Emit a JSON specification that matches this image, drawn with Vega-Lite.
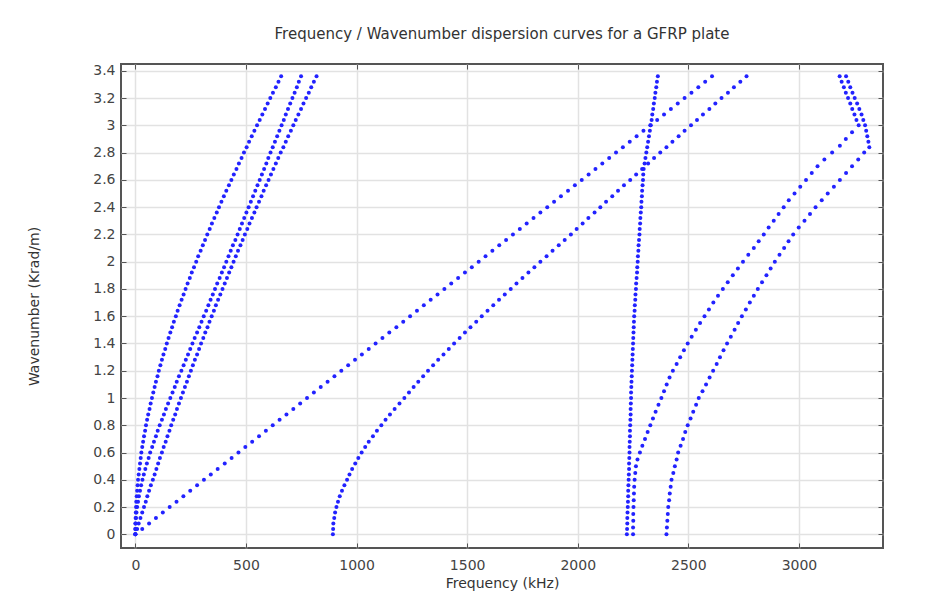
{
"$schema":"https://vega.github.io/schema/vega-lite/v6.json",
"width":762,"height":484,
"autosize":{"type":"none"},
"padding":{"left":121,"top":64,"right":54,"bottom":44},
"background":"#ffffff",
"title":{"text":"Frequency / Wavenumber dispersion curves for a GFRP plate","fontSize":15,"font":"DejaVu Sans","fontWeight":"normal","color":"#333333","anchor":"middle","offset":22},
"data":{"values":[
{"m":"A","k":0,"f":0},{"m":"A","k":0.04,"f":0},{"m":"A","k":0.08,"f":0},{"m":"A","k":0.12,"f":1},{"m":"A","k":0.16,"f":2},{"m":"A","k":0.2,"f":3},{"m":"A","k":0.24,"f":4},{"m":"A","k":0.28,"f":6},{"m":"A","k":0.32,"f":8},{"m":"A","k":0.36,"f":10},{"m":"A","k":0.4,"f":12},{"m":"A","k":0.44,"f":15},{"m":"A","k":0.48,"f":18},{"m":"A","k":0.52,"f":21},{"m":"A","k":0.56,"f":24},{"m":"A","k":0.6,"f":27},{"m":"A","k":0.64,"f":31},{"m":"A","k":0.68,"f":35},{"m":"A","k":0.72,"f":39},{"m":"A","k":0.76,"f":44},{"m":"A","k":0.8,"f":48},{"m":"A","k":0.84,"f":53},{"m":"A","k":0.88,"f":58},{"m":"A","k":0.92,"f":64},{"m":"A","k":0.96,"f":69},{"m":"A","k":1,"f":75},{"m":"A","k":1.04,"f":81},{"m":"A","k":1.08,"f":87},{"m":"A","k":1.12,"f":93},{"m":"A","k":1.16,"f":100},{"m":"A","k":1.2,"f":106},{"m":"A","k":1.24,"f":113},{"m":"A","k":1.28,"f":120},{"m":"A","k":1.32,"f":127},{"m":"A","k":1.36,"f":135},{"m":"A","k":1.4,"f":142},{"m":"A","k":1.44,"f":150},{"m":"A","k":1.48,"f":158},{"m":"A","k":1.52,"f":166},{"m":"A","k":1.56,"f":174},{"m":"A","k":1.6,"f":183},{"m":"A","k":1.64,"f":191},{"m":"A","k":1.68,"f":200},{"m":"A","k":1.72,"f":209},{"m":"A","k":1.76,"f":218},{"m":"A","k":1.8,"f":227},{"m":"A","k":1.84,"f":236},{"m":"A","k":1.88,"f":246},{"m":"A","k":1.92,"f":255},{"m":"A","k":1.96,"f":265},{"m":"A","k":2,"f":275},{"m":"A","k":2.04,"f":284},{"m":"A","k":2.08,"f":295},{"m":"A","k":2.12,"f":305},{"m":"A","k":2.16,"f":315},{"m":"A","k":2.2,"f":325},{"m":"A","k":2.24,"f":336},{"m":"A","k":2.28,"f":346},{"m":"A","k":2.32,"f":357},{"m":"A","k":2.36,"f":368},{"m":"A","k":2.4,"f":378},{"m":"A","k":2.44,"f":389},{"m":"A","k":2.48,"f":400},{"m":"A","k":2.52,"f":411},{"m":"A","k":2.56,"f":423},{"m":"A","k":2.6,"f":434},{"m":"A","k":2.64,"f":445},{"m":"A","k":2.68,"f":457},{"m":"A","k":2.72,"f":468},{"m":"A","k":2.76,"f":480},{"m":"A","k":2.8,"f":491},{"m":"A","k":2.84,"f":503},{"m":"A","k":2.88,"f":514},{"m":"A","k":2.92,"f":526},{"m":"A","k":2.96,"f":538},{"m":"A","k":3,"f":550},{"m":"A","k":3.04,"f":562},{"m":"A","k":3.08,"f":574},{"m":"A","k":3.12,"f":586},{"m":"A","k":3.16,"f":598},{"m":"A","k":3.2,"f":610},{"m":"A","k":3.24,"f":622},{"m":"A","k":3.28,"f":635},{"m":"A","k":3.32,"f":647},{"m":"A","k":3.36,"f":659},
{"m":"B","k":0,"f":0},{"m":"B","k":0.04,"f":0},{"m":"B","k":0.08,"f":1},{"m":"B","k":0.12,"f":3},{"m":"B","k":0.16,"f":5},{"m":"B","k":0.2,"f":8},{"m":"B","k":0.24,"f":12},{"m":"B","k":0.28,"f":16},{"m":"B","k":0.32,"f":21},{"m":"B","k":0.36,"f":26},{"m":"B","k":0.4,"f":32},{"m":"B","k":0.44,"f":38},{"m":"B","k":0.48,"f":45},{"m":"B","k":0.52,"f":52},{"m":"B","k":0.56,"f":60},{"m":"B","k":0.6,"f":67},{"m":"B","k":0.64,"f":76},{"m":"B","k":0.68,"f":84},{"m":"B","k":0.72,"f":93},{"m":"B","k":0.76,"f":101},{"m":"B","k":0.8,"f":110},{"m":"B","k":0.84,"f":120},{"m":"B","k":0.88,"f":129},{"m":"B","k":0.92,"f":138},{"m":"B","k":0.96,"f":148},{"m":"B","k":1,"f":158},{"m":"B","k":1.04,"f":168},{"m":"B","k":1.08,"f":178},{"m":"B","k":1.12,"f":187},{"m":"B","k":1.16,"f":197},{"m":"B","k":1.2,"f":208},{"m":"B","k":1.24,"f":218},{"m":"B","k":1.28,"f":228},{"m":"B","k":1.32,"f":238},{"m":"B","k":1.36,"f":248},{"m":"B","k":1.4,"f":258},{"m":"B","k":1.44,"f":268},{"m":"B","k":1.48,"f":279},{"m":"B","k":1.52,"f":289},{"m":"B","k":1.56,"f":299},{"m":"B","k":1.6,"f":309},{"m":"B","k":1.64,"f":320},{"m":"B","k":1.68,"f":330},{"m":"B","k":1.72,"f":340},{"m":"B","k":1.76,"f":350},{"m":"B","k":1.8,"f":360},{"m":"B","k":1.84,"f":370},{"m":"B","k":1.88,"f":381},{"m":"B","k":1.92,"f":391},{"m":"B","k":1.96,"f":401},{"m":"B","k":2,"f":411},{"m":"B","k":2.04,"f":421},{"m":"B","k":2.08,"f":431},{"m":"B","k":2.12,"f":441},{"m":"B","k":2.16,"f":452},{"m":"B","k":2.2,"f":462},{"m":"B","k":2.24,"f":472},{"m":"B","k":2.28,"f":482},{"m":"B","k":2.32,"f":492},{"m":"B","k":2.36,"f":502},{"m":"B","k":2.4,"f":512},{"m":"B","k":2.44,"f":522},{"m":"B","k":2.48,"f":532},{"m":"B","k":2.52,"f":542},{"m":"B","k":2.56,"f":552},{"m":"B","k":2.6,"f":562},{"m":"B","k":2.64,"f":572},{"m":"B","k":2.68,"f":582},{"m":"B","k":2.72,"f":592},{"m":"B","k":2.76,"f":601},{"m":"B","k":2.8,"f":611},{"m":"B","k":2.84,"f":621},{"m":"B","k":2.88,"f":631},{"m":"B","k":2.92,"f":641},{"m":"B","k":2.96,"f":651},{"m":"B","k":3,"f":661},{"m":"B","k":3.04,"f":671},{"m":"B","k":3.08,"f":680},{"m":"B","k":3.12,"f":690},{"m":"B","k":3.16,"f":700},{"m":"B","k":3.2,"f":710},{"m":"B","k":3.24,"f":720},{"m":"B","k":3.28,"f":730},{"m":"B","k":3.32,"f":739},{"m":"B","k":3.36,"f":749},
{"m":"C","k":0,"f":0},{"m":"C","k":0.04,"f":8},{"m":"C","k":0.08,"f":15},{"m":"C","k":0.12,"f":23},{"m":"C","k":0.16,"f":31},{"m":"C","k":0.2,"f":39},{"m":"C","k":0.24,"f":47},{"m":"C","k":0.28,"f":54},{"m":"C","k":0.32,"f":62},{"m":"C","k":0.36,"f":70},{"m":"C","k":0.4,"f":79},{"m":"C","k":0.44,"f":87},{"m":"C","k":0.48,"f":95},{"m":"C","k":0.52,"f":103},{"m":"C","k":0.56,"f":111},{"m":"C","k":0.6,"f":120},{"m":"C","k":0.64,"f":128},{"m":"C","k":0.68,"f":137},{"m":"C","k":0.72,"f":145},{"m":"C","k":0.76,"f":154},{"m":"C","k":0.8,"f":162},{"m":"C","k":0.84,"f":171},{"m":"C","k":0.88,"f":180},{"m":"C","k":0.92,"f":188},{"m":"C","k":0.96,"f":197},{"m":"C","k":1,"f":206},{"m":"C","k":1.04,"f":215},{"m":"C","k":1.08,"f":224},{"m":"C","k":1.12,"f":233},{"m":"C","k":1.16,"f":242},{"m":"C","k":1.2,"f":251},{"m":"C","k":1.24,"f":260},{"m":"C","k":1.28,"f":269},{"m":"C","k":1.32,"f":279},{"m":"C","k":1.36,"f":288},{"m":"C","k":1.4,"f":297},{"m":"C","k":1.44,"f":307},{"m":"C","k":1.48,"f":316},{"m":"C","k":1.52,"f":326},{"m":"C","k":1.56,"f":335},{"m":"C","k":1.6,"f":345},{"m":"C","k":1.64,"f":355},{"m":"C","k":1.68,"f":364},{"m":"C","k":1.72,"f":374},{"m":"C","k":1.76,"f":384},{"m":"C","k":1.8,"f":394},{"m":"C","k":1.84,"f":404},{"m":"C","k":1.88,"f":414},{"m":"C","k":1.92,"f":424},{"m":"C","k":1.96,"f":434},{"m":"C","k":2,"f":444},{"m":"C","k":2.04,"f":454},{"m":"C","k":2.08,"f":464},{"m":"C","k":2.12,"f":475},{"m":"C","k":2.16,"f":485},{"m":"C","k":2.2,"f":495},{"m":"C","k":2.24,"f":506},{"m":"C","k":2.28,"f":516},{"m":"C","k":2.32,"f":527},{"m":"C","k":2.36,"f":538},{"m":"C","k":2.4,"f":548},{"m":"C","k":2.44,"f":559},{"m":"C","k":2.48,"f":570},{"m":"C","k":2.52,"f":580},{"m":"C","k":2.56,"f":591},{"m":"C","k":2.6,"f":602},{"m":"C","k":2.64,"f":613},{"m":"C","k":2.68,"f":624},{"m":"C","k":2.72,"f":635},{"m":"C","k":2.76,"f":646},{"m":"C","k":2.8,"f":657},{"m":"C","k":2.84,"f":669},{"m":"C","k":2.88,"f":680},{"m":"C","k":2.92,"f":691},{"m":"C","k":2.96,"f":703},{"m":"C","k":3,"f":714},{"m":"C","k":3.04,"f":725},{"m":"C","k":3.08,"f":737},{"m":"C","k":3.12,"f":749},{"m":"C","k":3.16,"f":760},{"m":"C","k":3.2,"f":772},{"m":"C","k":3.24,"f":784},{"m":"C","k":3.28,"f":795},{"m":"C","k":3.32,"f":807},{"m":"C","k":3.36,"f":819},
{"m":"D","k":0,"f":0},{"m":"D","k":0.04,"f":31},{"m":"D","k":0.08,"f":62},{"m":"D","k":0.12,"f":93},{"m":"D","k":0.16,"f":124},{"m":"D","k":0.2,"f":155},{"m":"D","k":0.24,"f":186},{"m":"D","k":0.28,"f":217},{"m":"D","k":0.32,"f":248},{"m":"D","k":0.36,"f":279},{"m":"D","k":0.4,"f":310},{"m":"D","k":0.44,"f":341},{"m":"D","k":0.48,"f":372},{"m":"D","k":0.52,"f":404},{"m":"D","k":0.56,"f":435},{"m":"D","k":0.6,"f":466},{"m":"D","k":0.64,"f":497},{"m":"D","k":0.68,"f":528},{"m":"D","k":0.72,"f":559},{"m":"D","k":0.76,"f":590},{"m":"D","k":0.8,"f":621},{"m":"D","k":0.84,"f":652},{"m":"D","k":0.88,"f":683},{"m":"D","k":0.92,"f":714},{"m":"D","k":0.96,"f":745},{"m":"D","k":1,"f":776},{"m":"D","k":1.04,"f":807},{"m":"D","k":1.08,"f":838},{"m":"D","k":1.12,"f":869},{"m":"D","k":1.16,"f":900},{"m":"D","k":1.2,"f":931},{"m":"D","k":1.24,"f":962},{"m":"D","k":1.28,"f":993},{"m":"D","k":1.32,"f":1024},{"m":"D","k":1.36,"f":1055},{"m":"D","k":1.4,"f":1086},{"m":"D","k":1.44,"f":1117},{"m":"D","k":1.48,"f":1148},{"m":"D","k":1.52,"f":1180},{"m":"D","k":1.56,"f":1211},{"m":"D","k":1.6,"f":1242},{"m":"D","k":1.64,"f":1273},{"m":"D","k":1.68,"f":1304},{"m":"D","k":1.72,"f":1335},{"m":"D","k":1.76,"f":1366},{"m":"D","k":1.8,"f":1397},{"m":"D","k":1.84,"f":1428},{"m":"D","k":1.88,"f":1459},{"m":"D","k":1.92,"f":1490},{"m":"D","k":1.96,"f":1521},{"m":"D","k":2,"f":1552},{"m":"D","k":2.04,"f":1583},{"m":"D","k":2.08,"f":1614},{"m":"D","k":2.12,"f":1645},{"m":"D","k":2.16,"f":1676},{"m":"D","k":2.2,"f":1707},{"m":"D","k":2.24,"f":1738},{"m":"D","k":2.28,"f":1769},{"m":"D","k":2.32,"f":1800},{"m":"D","k":2.36,"f":1831},{"m":"D","k":2.4,"f":1862},{"m":"D","k":2.44,"f":1893},{"m":"D","k":2.48,"f":1924},{"m":"D","k":2.52,"f":1956},{"m":"D","k":2.56,"f":1987},{"m":"D","k":2.6,"f":2018},{"m":"D","k":2.64,"f":2049},{"m":"D","k":2.68,"f":2080},{"m":"D","k":2.72,"f":2111},{"m":"D","k":2.76,"f":2142},{"m":"D","k":2.8,"f":2173},{"m":"D","k":2.84,"f":2204},{"m":"D","k":2.88,"f":2235},{"m":"D","k":2.92,"f":2266},{"m":"D","k":2.96,"f":2297},{"m":"D","k":3,"f":2328},{"m":"D","k":3.04,"f":2359},{"m":"D","k":3.08,"f":2390},{"m":"D","k":3.12,"f":2421},{"m":"D","k":3.16,"f":2452},{"m":"D","k":3.2,"f":2483},{"m":"D","k":3.24,"f":2514},{"m":"D","k":3.28,"f":2545},{"m":"D","k":3.32,"f":2576},{"m":"D","k":3.36,"f":2607},
{"m":"E","k":0,"f":893},{"m":"E","k":0.04,"f":894},{"m":"E","k":0.08,"f":895},{"m":"E","k":0.12,"f":899},{"m":"E","k":0.16,"f":903},{"m":"E","k":0.2,"f":909},{"m":"E","k":0.24,"f":916},{"m":"E","k":0.28,"f":924},{"m":"E","k":0.32,"f":934},{"m":"E","k":0.36,"f":945},{"m":"E","k":0.4,"f":957},{"m":"E","k":0.44,"f":968},{"m":"E","k":0.48,"f":980},{"m":"E","k":0.52,"f":994},{"m":"E","k":0.56,"f":1008},{"m":"E","k":0.6,"f":1023},{"m":"E","k":0.64,"f":1039},{"m":"E","k":0.68,"f":1055},{"m":"E","k":0.72,"f":1074},{"m":"E","k":0.76,"f":1092},{"m":"E","k":0.8,"f":1112},{"m":"E","k":0.84,"f":1131},{"m":"E","k":0.88,"f":1151},{"m":"E","k":0.92,"f":1172},{"m":"E","k":0.96,"f":1194},{"m":"E","k":1,"f":1216},{"m":"E","k":1.04,"f":1237},{"m":"E","k":1.08,"f":1258},{"m":"E","k":1.12,"f":1279},{"m":"E","k":1.16,"f":1301},{"m":"E","k":1.2,"f":1323},{"m":"E","k":1.24,"f":1346},{"m":"E","k":1.28,"f":1369},{"m":"E","k":1.32,"f":1393},{"m":"E","k":1.36,"f":1417},{"m":"E","k":1.4,"f":1441},{"m":"E","k":1.44,"f":1466},{"m":"E","k":1.48,"f":1490},{"m":"E","k":1.52,"f":1515},{"m":"E","k":1.56,"f":1541},{"m":"E","k":1.6,"f":1566},{"m":"E","k":1.64,"f":1592},{"m":"E","k":1.68,"f":1618},{"m":"E","k":1.72,"f":1644},{"m":"E","k":1.76,"f":1670},{"m":"E","k":1.8,"f":1697},{"m":"E","k":1.84,"f":1723},{"m":"E","k":1.88,"f":1750},{"m":"E","k":1.92,"f":1777},{"m":"E","k":1.96,"f":1804},{"m":"E","k":2,"f":1831},{"m":"E","k":2.04,"f":1859},{"m":"E","k":2.08,"f":1886},{"m":"E","k":2.12,"f":1914},{"m":"E","k":2.16,"f":1941},{"m":"E","k":2.2,"f":1969},{"m":"E","k":2.24,"f":1995},{"m":"E","k":2.28,"f":2022},{"m":"E","k":2.32,"f":2048},{"m":"E","k":2.36,"f":2076},{"m":"E","k":2.4,"f":2102},{"m":"E","k":2.44,"f":2128},{"m":"E","k":2.48,"f":2156},{"m":"E","k":2.52,"f":2182},{"m":"E","k":2.56,"f":2209},{"m":"E","k":2.6,"f":2237},{"m":"E","k":2.64,"f":2264},{"m":"E","k":2.68,"f":2291},{"m":"E","k":2.72,"f":2318},{"m":"E","k":2.76,"f":2345},{"m":"E","k":2.8,"f":2373},{"m":"E","k":2.84,"f":2401},{"m":"E","k":2.88,"f":2428},{"m":"E","k":2.92,"f":2456},{"m":"E","k":2.96,"f":2483},{"m":"E","k":3,"f":2512},{"m":"E","k":3.04,"f":2539},{"m":"E","k":3.08,"f":2566},{"m":"E","k":3.12,"f":2595},{"m":"E","k":3.16,"f":2622},{"m":"E","k":3.2,"f":2650},{"m":"E","k":3.24,"f":2679},{"m":"E","k":3.28,"f":2706},{"m":"E","k":3.32,"f":2735},{"m":"E","k":3.36,"f":2763},
{"m":"F","k":0,"f":2222},{"m":"F","k":0.04,"f":2223},{"m":"F","k":0.08,"f":2224},{"m":"F","k":0.12,"f":2224},{"m":"F","k":0.16,"f":2225},{"m":"F","k":0.2,"f":2226},{"m":"F","k":0.24,"f":2227},{"m":"F","k":0.28,"f":2228},{"m":"F","k":0.32,"f":2228},{"m":"F","k":0.36,"f":2229},{"m":"F","k":0.4,"f":2230},{"m":"F","k":0.44,"f":2231},{"m":"F","k":0.48,"f":2232},{"m":"F","k":0.52,"f":2232},{"m":"F","k":0.56,"f":2233},{"m":"F","k":0.6,"f":2234},{"m":"F","k":0.64,"f":2234},{"m":"F","k":0.68,"f":2235},{"m":"F","k":0.72,"f":2236},{"m":"F","k":0.76,"f":2236},{"m":"F","k":0.8,"f":2237},{"m":"F","k":0.84,"f":2238},{"m":"F","k":0.88,"f":2239},{"m":"F","k":0.92,"f":2239},{"m":"F","k":0.96,"f":2240},{"m":"F","k":1,"f":2241},{"m":"F","k":1.04,"f":2241},{"m":"F","k":1.08,"f":2242},{"m":"F","k":1.12,"f":2243},{"m":"F","k":1.16,"f":2244},{"m":"F","k":1.2,"f":2245},{"m":"F","k":1.24,"f":2246},{"m":"F","k":1.28,"f":2247},{"m":"F","k":1.32,"f":2248},{"m":"F","k":1.36,"f":2249},{"m":"F","k":1.4,"f":2250},{"m":"F","k":1.44,"f":2251},{"m":"F","k":1.48,"f":2252},{"m":"F","k":1.52,"f":2253},{"m":"F","k":1.56,"f":2254},{"m":"F","k":1.6,"f":2255},{"m":"F","k":1.64,"f":2257},{"m":"F","k":1.68,"f":2258},{"m":"F","k":1.72,"f":2260},{"m":"F","k":1.76,"f":2261},{"m":"F","k":1.8,"f":2263},{"m":"F","k":1.84,"f":2264},{"m":"F","k":1.88,"f":2266},{"m":"F","k":1.92,"f":2268},{"m":"F","k":1.96,"f":2269},{"m":"F","k":2,"f":2271},{"m":"F","k":2.04,"f":2272},{"m":"F","k":2.08,"f":2274},{"m":"F","k":2.12,"f":2275},{"m":"F","k":2.16,"f":2277},{"m":"F","k":2.2,"f":2279},{"m":"F","k":2.24,"f":2280},{"m":"F","k":2.28,"f":2282},{"m":"F","k":2.32,"f":2283},{"m":"F","k":2.36,"f":2285},{"m":"F","k":2.4,"f":2287},{"m":"F","k":2.44,"f":2288},{"m":"F","k":2.48,"f":2290},{"m":"F","k":2.52,"f":2291},{"m":"F","k":2.56,"f":2293},{"m":"F","k":2.6,"f":2295},{"m":"F","k":2.64,"f":2296},{"m":"F","k":2.68,"f":2298},{"m":"F","k":2.72,"f":2302},{"m":"F","k":2.76,"f":2306},{"m":"F","k":2.8,"f":2310},{"m":"F","k":2.84,"f":2314},{"m":"F","k":2.88,"f":2318},{"m":"F","k":2.92,"f":2322},{"m":"F","k":2.96,"f":2326},{"m":"F","k":3,"f":2330},{"m":"F","k":3.04,"f":2334},{"m":"F","k":3.08,"f":2337},{"m":"F","k":3.12,"f":2341},{"m":"F","k":3.16,"f":2344},{"m":"F","k":3.2,"f":2348},{"m":"F","k":3.24,"f":2351},{"m":"F","k":3.28,"f":2355},{"m":"F","k":3.32,"f":2358},{"m":"F","k":3.36,"f":2362},
{"m":"G","k":0,"f":2250},{"m":"G","k":0.05,"f":2250},{"m":"G","k":0.1,"f":2251},{"m":"G","k":0.15,"f":2251},{"m":"G","k":0.2,"f":2252},{"m":"G","k":0.25,"f":2253},{"m":"G","k":0.3,"f":2254},{"m":"G","k":0.35,"f":2255},{"m":"G","k":0.4,"f":2257},{"m":"G","k":0.45,"f":2260},{"m":"G","k":0.5,"f":2263},{"m":"G","k":0.55,"f":2270},{"m":"G","k":0.6,"f":2281},{"m":"G","k":0.65,"f":2292},{"m":"G","k":0.7,"f":2304},{"m":"G","k":0.75,"f":2316},{"m":"G","k":0.8,"f":2328},{"m":"G","k":0.85,"f":2340},{"m":"G","k":0.9,"f":2352},{"m":"G","k":0.95,"f":2365},{"m":"G","k":1,"f":2378},{"m":"G","k":1.05,"f":2390},{"m":"G","k":1.1,"f":2402},{"m":"G","k":1.15,"f":2415},{"m":"G","k":1.2,"f":2430},{"m":"G","k":1.25,"f":2447},{"m":"G","k":1.3,"f":2463},{"m":"G","k":1.35,"f":2480},{"m":"G","k":1.4,"f":2497},{"m":"G","k":1.45,"f":2515},{"m":"G","k":1.5,"f":2534},{"m":"G","k":1.55,"f":2553},{"m":"G","k":1.6,"f":2573},{"m":"G","k":1.65,"f":2593},{"m":"G","k":1.7,"f":2613},{"m":"G","k":1.75,"f":2634},{"m":"G","k":1.8,"f":2656},{"m":"G","k":1.85,"f":2678},{"m":"G","k":1.9,"f":2701},{"m":"G","k":1.95,"f":2724},{"m":"G","k":2,"f":2747},{"m":"G","k":2.05,"f":2771},{"m":"G","k":2.1,"f":2796},{"m":"G","k":2.15,"f":2818},{"m":"G","k":2.2,"f":2841},{"m":"G","k":2.25,"f":2863},{"m":"G","k":2.3,"f":2886},{"m":"G","k":2.35,"f":2908},{"m":"G","k":2.4,"f":2931},{"m":"G","k":2.45,"f":2954},{"m":"G","k":2.5,"f":2980},{"m":"G","k":2.55,"f":3006},{"m":"G","k":2.6,"f":3032},{"m":"G","k":2.65,"f":3058},{"m":"G","k":2.7,"f":3084},{"m":"G","k":2.75,"f":3115},{"m":"G","k":2.8,"f":3150},{"m":"G","k":2.85,"f":3185},{"m":"G","k":2.9,"f":3212},{"m":"G","k":2.95,"f":3240},{"m":"G","k":3,"f":3270},{"m":"G","k":3.04,"f":3260},{"m":"G","k":3.08,"f":3251},{"m":"G","k":3.12,"f":3241},{"m":"G","k":3.16,"f":3232},{"m":"G","k":3.2,"f":3222},{"m":"G","k":3.24,"f":3212},{"m":"G","k":3.28,"f":3203},{"m":"G","k":3.32,"f":3193},{"m":"G","k":3.36,"f":3184},
{"m":"H","k":0,"f":2401},{"m":"H","k":0.05,"f":2403},{"m":"H","k":0.1,"f":2405},{"m":"H","k":0.15,"f":2407},{"m":"H","k":0.2,"f":2409},{"m":"H","k":0.25,"f":2413},{"m":"H","k":0.3,"f":2416},{"m":"H","k":0.35,"f":2420},{"m":"H","k":0.4,"f":2424},{"m":"H","k":0.45,"f":2432},{"m":"H","k":0.5,"f":2439},{"m":"H","k":0.55,"f":2447},{"m":"H","k":0.6,"f":2454},{"m":"H","k":0.65,"f":2465},{"m":"H","k":0.7,"f":2476},{"m":"H","k":0.75,"f":2486},{"m":"H","k":0.8,"f":2497},{"m":"H","k":0.85,"f":2510},{"m":"H","k":0.9,"f":2522},{"m":"H","k":0.95,"f":2535},{"m":"H","k":1,"f":2547},{"m":"H","k":1.05,"f":2564},{"m":"H","k":1.1,"f":2580},{"m":"H","k":1.15,"f":2596},{"m":"H","k":1.2,"f":2612},{"m":"H","k":1.25,"f":2628},{"m":"H","k":1.3,"f":2643},{"m":"H","k":1.35,"f":2659},{"m":"H","k":1.4,"f":2675},{"m":"H","k":1.45,"f":2692},{"m":"H","k":1.5,"f":2709},{"m":"H","k":1.55,"f":2725},{"m":"H","k":1.6,"f":2742},{"m":"H","k":1.65,"f":2760},{"m":"H","k":1.7,"f":2778},{"m":"H","k":1.75,"f":2796},{"m":"H","k":1.8,"f":2814},{"m":"H","k":1.85,"f":2833},{"m":"H","k":1.9,"f":2853},{"m":"H","k":1.95,"f":2872},{"m":"H","k":2,"f":2891},{"m":"H","k":2.05,"f":2912},{"m":"H","k":2.1,"f":2933},{"m":"H","k":2.15,"f":2953},{"m":"H","k":2.2,"f":2974},{"m":"H","k":2.25,"f":2999},{"m":"H","k":2.3,"f":3025},{"m":"H","k":2.35,"f":3050},{"m":"H","k":2.4,"f":3075},{"m":"H","k":2.45,"f":3103},{"m":"H","k":2.5,"f":3130},{"m":"H","k":2.55,"f":3158},{"m":"H","k":2.6,"f":3185},{"m":"H","k":2.65,"f":3213},{"m":"H","k":2.7,"f":3240},{"m":"H","k":2.75,"f":3268},{"m":"H","k":2.8,"f":3295},{"m":"H","k":2.84,"f":3318},{"m":"H","k":2.88,"f":3314},{"m":"H","k":2.92,"f":3309},{"m":"H","k":2.96,"f":3304},{"m":"H","k":3,"f":3299},{"m":"H","k":3.04,"f":3291},{"m":"H","k":3.08,"f":3283},{"m":"H","k":3.12,"f":3273},{"m":"H","k":3.16,"f":3263},{"m":"H","k":3.2,"f":3252},{"m":"H","k":3.24,"f":3242},{"m":"H","k":3.28,"f":3232},{"m":"H","k":3.32,"f":3223},{"m":"H","k":3.36,"f":3213}
]},
"layer":[
{"mark":{"type":"point","filled":true,"size":16,"color":"#2222ff","opacity":1,"clip":true},
 "encoding":{
  "x":{"field":"f","type":"quantitative","scale":{"domain":[-65,3380],"nice":false,"zero":false},
       "axis":{"orient":"bottom","title":"Frequency (kHz)","values":[0,500,1000,1500,2000,2500,3000],"format":"d","grid":true,"tickSize":-5,"labelPadding":15,"titlePadding":4}},
  "y":{"field":"k","type":"quantitative","scale":{"domain":[-0.1,3.45],"nice":false,"zero":false},
       "axis":{"orient":"left","title":"Wavenumber (Krad/m)","values":[0,0.2,0.4,0.6,0.8,1,1.2,1.4,1.6,1.8,2,2.2,2.4,2.6,2.8,3,3.2,3.4],"format":"~g","grid":true,"tickSize":-5,"labelPadding":11,"titlePadding":51}}
 }},
{"mark":{"type":"point","opacity":0},
 "encoding":{
  "x":{"field":"f","type":"quantitative","axis":{"orient":"top","title":null,"values":[0,500,1000,1500,2000,2500,3000],"labels":false,"grid":false,"tickSize":-5}},
  "y":{"field":"k","type":"quantitative","axis":{"orient":"right","title":null,"values":[0,0.2,0.4,0.6,0.8,1,1.2,1.4,1.6,1.8,2,2.2,2.4,2.6,2.8,3,3.2,3.4],"labels":false,"grid":false,"tickSize":-5}}
 }}
],
"resolve":{"axis":{"x":"independent","y":"independent"}},
"config":{
 "view":{"stroke":"#555555","strokeWidth":2},
 "axis":{"domain":false,"labelFont":"DejaVu Sans","labelFontSize":14,"labelColor":"#444444","titleFont":"DejaVu Sans","titleFontSize":14,"titleFontWeight":"normal","titleColor":"#333333","tickColor":"#555555","tickWidth":1,"gridColor":"#e2e2e2","gridWidth":1.5}
}
}
